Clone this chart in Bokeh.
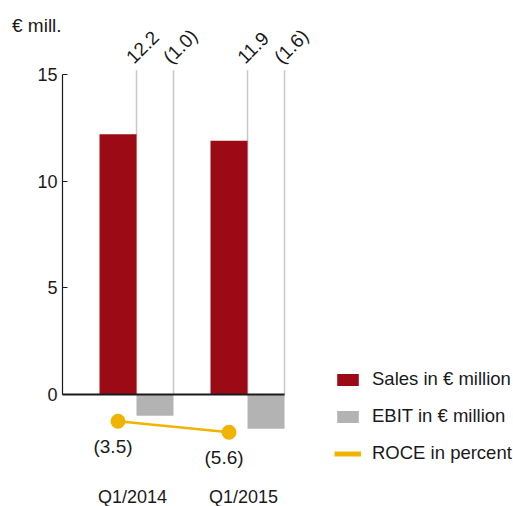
import numpy as np
from bokeh.plotting import figure
from bokeh.models import Range1d, FixedTicker, Legend, LegendItem
from bokeh.core.properties import value
from bokeh.embed import file_html
from bokeh.resources import INLINE

# ---- data ----
periods = ["Q1/2014", "Q1/2015"]
sales = [12.2, 11.9]
ebit = [-1.0, -1.6]
roce = [-3.5, -5.6]
sales_labels = ["12.2", "11.9"]
ebit_labels = ["(1.0)", "(1.6)"]
roce_labels = ["(3.5)", "(5.6)"]
y_ticks = [0, 5, 10, 15]
unit_label = "€ mill."
legend_labels = ["Sales in € million", "EBIT in € million", "ROCE in percent"]

# ---- style ----
RED = "#9c0a16"
GREY = "#b3b3b3"
LINEGREY = "#c8c8c8"
YELLOW = "#f0b400"
INK = "#1a1a1a"
FONT = "Liberation Sans"
FS = "19px"

W, H = 513, 506
BAR = 1 / 3
X0 = -0.6667          # x position of the value axis
idx = np.arange(len(periods))

p = figure(width=W, height=H, output_backend="svg", toolbar_location=None,
           x_range=Range1d(-1.2252, 3.396), y_range=Range1d(-5.25, 18.469),
           x_axis_location=None, min_border_left=0, min_border_right=0,
           min_border_top=0, min_border_bottom=0, outline_line_color=None,
           background_fill_color="white", border_fill_color="white")
p.xgrid.visible = False
p.ygrid.visible = False
p.extra_y_ranges = {"roce": Range1d(-19.785, 76.82)}

yax = p.yaxis[0]
yax.fixed_location = X0
yax.ticker = FixedTicker(ticks=y_ticks)
yax.bounds = (min(y_ticks), max(y_ticks))
yax.axis_line_color = INK
yax.axis_line_width = 1.2
yax.major_tick_in = 5
yax.major_tick_out = 0
yax.major_tick_line_color = INK
yax.minor_tick_line_color = None
yax.major_label_standoff = 5
yax.major_label_text_font = FONT
yax.major_label_text_font_size = "18px"
yax.major_label_text_color = INK

# thin leader lines at the right edge of each bar
edges = np.concatenate([idx, idx + BAR])
top_line = max(y_ticks) + 0.2
p.segment(x0=edges, y0=0, x1=edges, y1=top_line, line_color=LINEGREY, line_width=1.5)

sales_r = p.vbar(x=idx - BAR / 2, top=sales, width=BAR, fill_color=RED, line_color=None)
ebit_r = p.vbar(x=idx + BAR / 2, top=ebit, bottom=0, width=BAR, fill_color=GREY, line_color=None)

# zero line
p.segment(x0=[X0], y0=[0], x1=[idx[-1] + BAR], y1=[0], line_color=INK, line_width=2)

# rotated value labels
p.text(x=idx, y=[top_line] * len(idx), text=sales_labels, angle=np.pi / 4,
       x_offset=-7, y_offset=-10, text_align="left", text_baseline="alphabetic",
       text_font=value(FONT), text_font_size=FS, text_color=INK)
p.text(x=idx + BAR, y=[top_line] * len(idx), text=ebit_labels, angle=np.pi / 4,
       x_offset=-7, y_offset=-10, text_align="left", text_baseline="alphabetic",
       text_font=value(FONT), text_font_size=FS, text_color=INK)

# ROCE
roce_r = p.line(x=idx - BAR / 2, y=roce, y_range_name="roce", line_color=YELLOW, line_width=2.5)
p.scatter(x=idx - BAR / 2, y=roce, y_range_name="roce", size=15, fill_color=YELLOW, line_color=None)
p.text(x=idx - BAR / 2, y=roce, y_range_name="roce", text=roce_labels, x_offset=-5, y_offset=25,
       text_align="center", text_baseline="middle",
       text_font=value(FONT), text_font_size=FS, text_color=INK)

# category labels
p.text(x=idx, y=[-4.81] * len(idx), text=periods, x_offset=-4,
       text_align="center", text_baseline="middle",
       text_font=value(FONT), text_font_size="18px", text_color=INK)

# unit label, left of the value axis
p.text(x=[X0], y=[17.3], text=[unit_label], x_offset=-50.5,
       text_align="left", text_baseline="middle",
       text_font=value(FONT), text_font_size=FS, text_color=INK)

roce_leg = p.line(x=[np.nan, np.nan], y=[np.nan, np.nan], line_color=YELLOW, line_width=5)
legend = Legend(items=[LegendItem(label=legend_labels[0], renderers=[sales_r]),
                       LegendItem(label=legend_labels[1], renderers=[ebit_r]),
                       LegendItem(label=legend_labels[2], renderers=[roce_leg])],
                location=(334, 42), orientation="vertical",
                glyph_width=27, glyph_height=15, label_height=15, spacing=15,
                label_standoff=11, padding=0, margin=0,
                border_line_color=None, background_fill_alpha=0,
                label_text_font=FONT, label_text_font_size="18.5px", label_text_color=INK)
p.add_layout(legend)

open("out.html", "w").write(file_html(p, INLINE))
